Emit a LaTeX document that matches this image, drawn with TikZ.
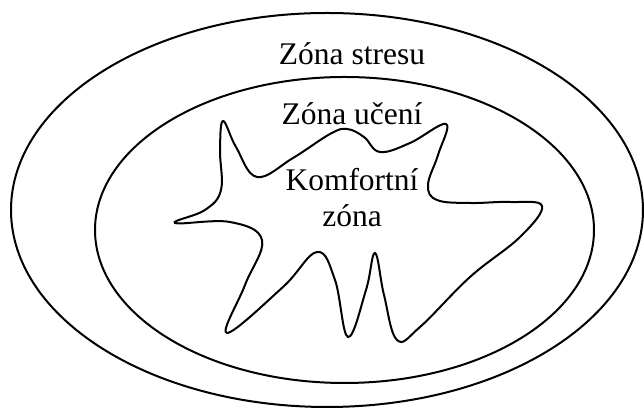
\documentclass[tikz,border=0pt]{standalone}
\usepackage{fontspec}
\setmainfont{Liberation Serif}
\usepackage{tikz}

\tikzset{
    zone/.style={line width=1pt},
    zonelabel/.style={font=\fontsize{15.75}{18.3}\selectfont, inner sep=0pt, anchor=base, align=center}
}

\begin{document}
\begin{tikzpicture}[x=0.5pt, y=-0.5pt]
    \useasboundingbox (0,0) rectangle (644,410);
    % Zones
    \draw[zone] (327,210) ellipse (316 and 197);
    \draw[zone] (344.5,230) ellipse (249.5 and 153);
    % Comfort zone
    \draw[zone] plot[smooth cycle, tension=0.65] coordinates {
        (223,121) (236,147) (257,177) (293,158) (330,134) (347,129) (364,137)
        (380,152) (410,143) (446,124) (438,155) (428,185) (437,200) (470,203)
        (510,202) (542,206) (520,237) (470,277) (420,327) (397,340) (384,295)
        (375,253) (366,290) (348,337) (335,280) (317,252) (283,287) (227,333)
        (245,285) (262,240) (230,222) (175,223) (205,210) (221,190) (220,150)};
    % Labels
    \node[zonelabel] (stres) at (352,65) {Zóna stresu};
    \node[zonelabel] (uceni) at (352,125) {Zóna učení};
    \node[zonelabel] (komfort) at (352,227) {Komfortní\\zóna};
\end{tikzpicture}
\end{document}
